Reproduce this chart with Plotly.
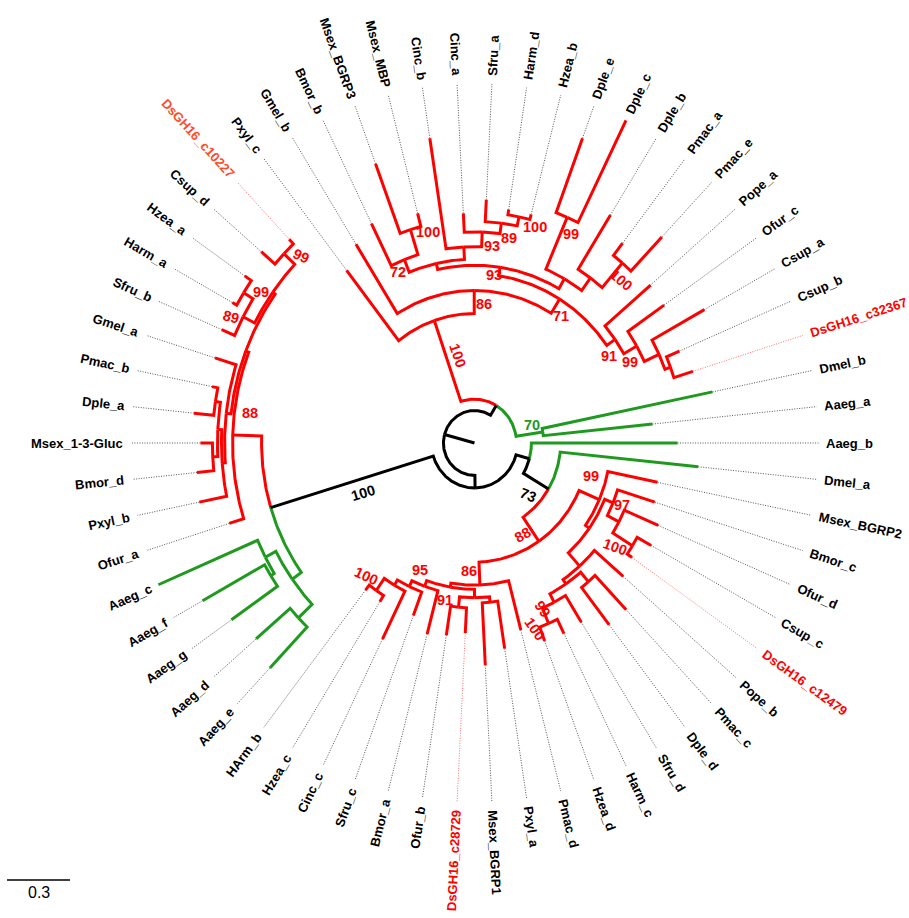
import math
from collections import defaultdict
import plotly.graph_objects as go

# ---------------- data ----------------
# leaves in counter-clockwise order (angle = k * 360/62, k = 1..62)
leaf_order = ['Aaeg_a', 'Dmel_b', 'DsGH16_c32367', 'Csup_b', 'Csup_a', 'Ofur_c', 'Pope_a',
              'Pmac_e', 'Pmac_a', 'Dple_b', 'Dple_c', 'Dple_e', 'Hzea_b', 'Harm_d', 'Sfru_a',
              'Cinc_a', 'Cinc_b', 'Msex_MBP', 'Msex_BGRP3', 'Bmor_b', 'Gmel_b', 'Pxyl_c',
              'DsGH16_c10227', 'Csup_d', 'Hzea_a', 'Harm_a', 'Sfru_b', 'Gmel_a', 'Pmac_b',
              'Dple_a', 'Msex_1-3-Gluc', 'Bmor_d', 'Pxyl_b', 'Ofur_a', 'Aaeg_c', 'Aaeg_f',
              'Aaeg_g', 'Aaeg_d', 'Aaeg_e', 'HArm_b', 'Hzea_c', 'Cinc_c', 'Sfru_c', 'Bmor_a',
              'Ofur_b', 'DsGH16_c28729', 'Msex_BGRP1', 'Pxyl_a', 'Pmac_d', 'Hzea_d', 'Harm_c',
              'Sfru_d', 'Dple_d', 'Pmac_c', 'Pope_b', 'DsGH16_c12479', 'Csup_c', 'Ofur_d',
              'Bmor_c', 'Msex_BGRP2', 'Dmel_a', 'Aaeg_b']
leaf_parent = ['G70', 'G70', 'V', 'V', 'Q', 'P', 'Y',
               'Pm100', 'Pm100', 'Db', 'De', 'De', 'N100b', 'N100b', 'N89',
               'N93up', 'node13', 'M100', 'M100', 'N72', 'U86', 'T',
               'CD99', 'CD99', 'HH99', 'HH99', 'N89L', 'A3', 'DP',
               'DP', 'MB', 'MB', 'A4', 'A88', 'CF', 'FG',
               'FG', 'DE', 'DE', 'HH100', 'HH100', 'CC', 'SS', 'N95',
               'CO', 'CO', 'PM', 'PM', 'B86', 'H100', 'H100',
               'S99', 'PD', 'PD', 'L1', 'C100', 'C100', 'N97',
               'N_b', 'R99', 'E', 'D']
# root-to-tip distance (substitutions / site)
leaf_depth = [0.852, 1.157, 1.090, 1.062, 1.252, 1.100, 1.105,
              1.295, 1.152, 1.224, 1.638, 1.481, 1.076, 1.076, 1.110,
              1.048, 1.405, 1.081, 1.357, 1.114, 1.067, 0.995,
              1.281, 1.338, 1.333, 1.319, 1.310, 1.295, 1.276,
              1.343, 1.305, 1.329, 1.338, 1.224, 1.638, 1.481,
              1.410, 1.371, 1.414, 0.848, 0.852, 0.995, 0.838, 0.900,
              0.886, 0.867, 1.014, 0.948, 0.881, 0.962, 0.967,
              0.962, 1.048, 1.048, 0.933, 0.914, 0.962, 0.952,
              0.900, 0.890, 1.071, 0.967]

node_ids = ['root', 'R', 'B', 'T', 'U86', 'N71', 'N93', 'node14', 'N72', 'M100', 'node13', 'N93up', 'N89', 'N100b',
            'X1', 'De', 'Db', 'Pm100', 'Y', 'P', 'Q', 'V', 'G70',
            'C', 'L', 'A88', 'A2', 'CDp', 'N89L', 'HH99', 'CD99', 'A3', 'A4', 'A5', 'DP', 'MB',
            'Green0', 'CF', 'FG', 'DE',
            'D', 'E', 'K88', 'R99', 'M', 'N_b', 'N97', 'C100', 'L1', 'L2', 'PD', 'S99', 'H100',
            'B86', 'X', 'N95', 'SS', 'CC', 'HH100', 'PMCO', 'PM', 'CO']
node_parent = [None, 'root', 'R', 'B', 'T', 'U86', 'N71', 'N93', 'node14', 'N72', 'node14', 'node13', 'N93up', 'N89',
               'N93', 'X1', 'X1', 'Db', 'N71', 'Y', 'P', 'Q', 'B',
               'R', 'C', 'L', 'A88', 'A2', 'CDp', 'N89L', 'CDp', 'A2', 'A3', 'A4', 'A5', 'A5',
               'L', 'Green0', 'CF', 'Green0',
               'C', 'D', 'E', 'K88', 'R99', 'M', 'N_b', 'N97', 'M', 'L1', 'L2', 'L2', 'S99',
               'K88', 'B86', 'X', 'N95', 'SS', 'CC', 'X', 'PMCO', 'PMCO']
node_depth = [0.0, 0.148, 0.200, 0.590, 0.695, 0.771, 0.810, 0.838, 0.900, 1.019, 0.895, 0.962, 1.010, 1.052,
              0.862, 1.119, 0.933, 1.081, 0.819, 0.890, 0.967, 0.995, 0.329,
              0.205, 1.014, 1.152, 1.167, 1.181, 1.243, 1.295, 1.252, 1.190, 1.205, 1.224, 1.248, 1.248,
              1.067, 1.124, 1.143, 1.157,
              0.271, 0.410, 0.543, 0.648, 0.671, 0.714, 0.776, 0.886, 0.752, 0.776, 0.833, 0.819, 0.895,
              0.648, 0.667, 0.695, 0.724, 0.752, 0.819, 0.705, 0.729, 0.752]

support_node = ['T', 'U86', 'N71', 'N93', 'N72', 'M100', 'N93up', 'N89', 'N100b', 'De',
                'Pm100', 'Y', 'P', 'G70', 'L', 'A88', 'CD99', 'HH99', 'N89L', 'E',
                'K88', 'R99', 'N97', 'C100', 'S99', 'H100', 'B86', 'N95', 'CO', 'HH100']
support_value = [100, 86, 71, 93, 72, 100, 93, 89, 100, 99,
                 100, 91, 99, 70, 100, 88, 99, 99, 89, 73,
                 88, 99, 97, 100, 99, 100, 86, 95, 91, 100]

backbone_nodes = ['root', 'R', 'B', 'C', 'L', 'D', 'E']
diptera_roots = ['G70', 'Aaeg_b', 'Dmel_a', 'Green0']

scale_value = 0.3

# ---------------- styling / layout ----------------
W, H = 909, 918
PX = 210.0          # pixels per unit (x)
YS = 1.045          # vertical stretch of the original picture
CX, CY = 474.5, 443.0
R_DOT = 344 / PX
R_LAB = 352 / PX
RED, GREEN, BLACK = '#ff0000', '#1f9a1f', '#000000'
FONT = 'Liberation Sans, Arial, sans-serif'

# branch labels placed on long branches: (dx, dy screen px from branch middle, angle)
branch_label_style = {'T': (10, -6, 71), 'L': (11, 11, -17), 'E': (-8, 14, 22), 'G70': (3, -9, 0)}
node_label_nudge = {'M100': (4, -8), 'N72': (-21, 3), 'N100b': (9, -6), 'N93': (-14, -8),
                    'A88': (3, -12), 'N89L': (-29, 3), 'R99': (9, -27), 'N97': (20, -19),
                    'S99': (4, 14), 'H100': (1, 14), 'CO': (-5, 8), 'HH100': (-10, 3)}
node_label_angle = {'S99': 55, 'H100': 55, 'Pm100': 40, 'C100': 20, 'HH100': 25, 'CD99': 25,
                    'N89L': 15, 'K88': -30}

BOLD_W = {'A': 722, 'B': 722, 'C': 722, 'D': 722, 'G': 778, 'H': 722, 'M': 833, 'O': 778,
          'P': 667, 'R': 722, 'S': 667, 'a': 556, 'b': 611, 'c': 556, 'd': 611, 'e': 556,
          'f': 333, 'g': 611, 'h': 611, 'i': 278, 'l': 278, 'm': 889, 'n': 611, 'o': 611,
          'p': 611, 'r': 389, 's': 556, 'u': 611, 'x': 556, 'y': 556, 'z': 500, '_': 556,
          '-': 333}


def text_w(s, size):
    return sum(BOLD_W.get(ch, 556) for ch in s) * size / 1000.0


# ---------------- tree geometry ----------------
parent = {}
depth = {}
children = defaultdict(list)
for n, p, d in zip(node_ids, node_parent, node_depth):
    parent[n] = p
    depth[n] = d
    if p is not None:
        children[p].append(n)
for n, p, d in zip(leaf_order, leaf_parent, leaf_depth):
    parent[n] = p
    depth[n] = d
    children[p].append(n)

ang = {}
N = len(leaf_order)
for k, n in enumerate(leaf_order):
    ang[n] = 360.0 * (k + 1) / N


def get_ang(n):
    if n not in ang:
        a = [get_ang(c) for c in children[n]]
        ang[n] = (min(a) + max(a)) / 2.0
    return ang[n]


for n in node_ids:
    get_ang(n)

group = {}


def get_group(n):
    if n in group:
        return group[n]
    if n in backbone_nodes:
        g = 'back'
    elif n in diptera_roots:
        g = 'dip'
    else:
        pg = get_group(parent[n])
        g = 'lep' if pg == 'back' else pg
    group[n] = g
    return g


for n in list(parent.keys()):
    get_group(n)
gcol = {'back': BLACK, 'dip': GREEN, 'lep': RED}


def xy(r, a):
    t = math.radians(a)
    return r * math.cos(t), r * math.sin(t)


paths = {BLACK: ([], []), RED: ([], []), GREEN: ([], [])}
for n in list(parent.keys()):
    p = parent[n]
    if p is None:
        continue
    rp, ap, ac, rc = depth[p], ang[p], ang[n], depth[n]
    xs, ys = [], []
    if rp > 0:
        nstep = max(1, int(abs(ac - ap) / 0.6) + 1)
        for i in range(nstep + 1):
            x, y = xy(rp, ap + (ac - ap) * i / nstep)
            xs.append(x)
            ys.append(y)
    else:
        xs.append(0.0)
        ys.append(0.0)
    x, y = xy(rc, ac)
    xs.append(x)
    ys.append(y)
    P = paths[gcol[group[n]]]
    P[0].extend(xs + [None])
    P[1].extend(ys + [None])

fig = go.Figure()

# dotted leader lines
for red_lines in (False, True):
    xs, ys = [], []
    for n in leaf_order:
        if n.startswith('DsGH16') != red_lines:
            continue
        x0, y0 = xy(depth[n], ang[n])
        x1, y1 = xy(R_DOT, ang[n])
        xs += [x0, x1, None]
        ys += [y0, y1, None]
    fig.add_trace(go.Scatter(x=xs, y=ys, mode='lines', hoverinfo='skip',
                             line=dict(color='#ff7070' if red_lines else '#555555', width=1,
                                       dash='1px,1.5px')))

for col in (GREEN, RED, BLACK):
    fig.add_trace(go.Scatter(x=paths[col][0], y=paths[col][1], mode='lines', hoverinfo='skip',
                             line=dict(color=col, width=3)))

# scale bar
sx0 = (7 - CX) / PX
sy = (CY - 880) / (PX * YS)
fig.add_trace(go.Scatter(x=[sx0, sx0 + scale_value], y=[sy, sy], mode='lines',
                         line=dict(color='black', width=1.5), hoverinfo='skip'))

ann = []
ann.append(dict(x=sx0 + scale_value / 2, y=sy, yshift=-12, text=str(scale_value), showarrow=False,
                font=dict(family=FONT, size=16, color='black'), xanchor='center', yanchor='middle'))

# leaf labels
for n in leaf_order:
    a = ang[n]
    t = math.radians(a)
    ux, uy = math.cos(t), math.sin(t) * YS
    nn = math.hypot(ux, uy)
    ux, uy = ux / nn, uy / nn
    phi = math.degrees(math.atan2(uy, ux))
    tangle = -phi if ux >= 0 else 180 - phi
    w = text_w(n, 13)
    x0, y0 = xy(R_LAB, a)
    if n == 'DsGH16_c10227':
        c = '#ff4a2a'
    elif n.startswith('DsGH16'):
        c = RED
    else:
        c = BLACK
    ann.append(dict(x=x0, y=y0, xshift=ux * w / 2, yshift=uy * w / 2, text=n, showarrow=False,
                    textangle=tangle, xanchor='center', yanchor='middle',
                    font=dict(family=FONT, size=13, color=c, weight='bold')))

# support values
for n, v in zip(support_node, support_value):
    a = ang[n]
    t = math.radians(a)
    c = gcol[group[n]]
    if n in branch_label_style:
        dx, dy, tang = branch_label_style[n]
        r = (depth[parent[n]] + depth[n]) / 2.0
    else:
        dx = -14 * math.cos(t) + 10 * math.sin(t)
        dy = 14 * math.sin(t) + 10 * math.cos(t)
        ndx, ndy = node_label_nudge.get(n, (0, 0))
        dx += ndx
        dy += ndy
        tang = node_label_angle.get(n, 0)
        r = depth[n]
    x0, y0 = xy(r, a)
    ann.append(dict(x=x0, y=y0, xshift=dx, yshift=-dy, text=str(v), showarrow=False,
                    textangle=tang, xanchor='center', yanchor='middle',
                    font=dict(family=FONT, size=14.5, color=c, weight='bold')))

fig.update_layout(
    width=W, height=H, margin=dict(l=0, r=0, t=0, b=0),
    paper_bgcolor='white', plot_bgcolor='white', showlegend=False,
    xaxis=dict(range=[-CX / PX, (W - CX) / PX], visible=False, fixedrange=True),
    yaxis=dict(range=[-(H - CY) / (PX * YS), CY / (PX * YS)], visible=False, fixedrange=True),
    annotations=ann,
)

fig.write_html('out.html', include_plotlyjs=True, config={'displayModeBar': False},
               post_script="document.body.style.margin='0px';document.body.style.overflow='hidden';")
